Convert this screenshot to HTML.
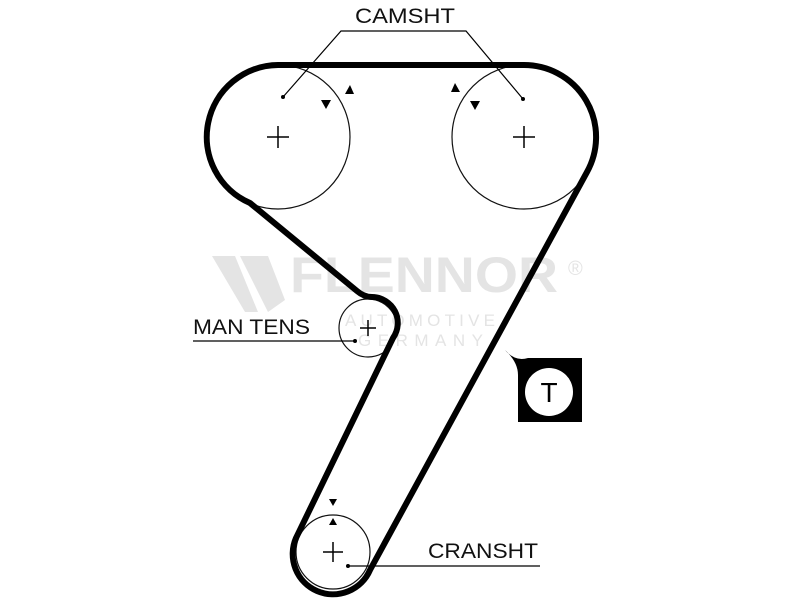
<!DOCTYPE html>
<html><head><style>body{margin:0;background:#fff}svg{display:block}</style></head><body>
<svg width="800" height="600" viewBox="0 0 800 600" xmlns="http://www.w3.org/2000/svg" font-family="Liberation Sans, sans-serif">
<rect width="800" height="600" fill="#fff"/>
<!-- watermark -->
<g fill="#e4e4e4">
<polygon points="212,256 235,256 258,312 245,312"/>
<polygon points="240,256 268,256 285,300 268,312"/>
<text x="290" y="292" font-size="50" font-weight="bold" textLength="268" lengthAdjust="spacingAndGlyphs">FLENNOR</text>
<text x="568" y="275" font-size="20">®</text>
<text x="345" y="326" font-size="17" textLength="150" lengthAdjust="spacing">AUTOMOTIVE</text>
<text x="358" y="346" font-size="17" textLength="125" lengthAdjust="spacing">GERMANY</text>
</g>
<!-- pulleys -->
<g fill="none" stroke="#111" stroke-width="1.2">
<circle cx="278" cy="137" r="72"/>
<circle cx="524" cy="137" r="72"/>
<circle cx="368" cy="328" r="29"/>
<circle cx="333" cy="552" r="37"/>
</g>
<!-- belt -->
<path d="M278 65 L524 65 A72 72 0 0 1 587 172 L370 570 A40 40 0 0 1 296 538 L393 338 A26 26 0 0 0 372 297 Q364 297 357 291 L250 203 A72 72 0 0 1 278 65 Z" fill="none" stroke="#000" stroke-width="6" stroke-linejoin="round"/>
<!-- centers -->
<g stroke="#000" stroke-width="1.5">
<path d="M267 137h22M278 126v22"/>
<path d="M513 137h22M524 126v22"/>
<path d="M360 328h16M368 320v16"/>
<path d="M323 552h20M333 542v20"/>
</g>
<!-- leaders -->
<g stroke="#000" stroke-width="1.2" fill="none">
<path d="M283 97 L341 31 L466 31 L523 99"/>
<path d="M193 341 L355 341"/>
<path d="M348 566 L540 566"/>
</g>
<g fill="#000">
<circle cx="283" cy="97" r="2"/><circle cx="523" cy="99" r="2"/>
<circle cx="355" cy="341" r="2"/><circle cx="348" cy="566" r="2"/>
<polygon points="321,100 331,100 326,109"/>
<polygon points="345,94 354,94 350,85"/>
<polygon points="451,92 460,92 455,83"/>
<polygon points="470,101 480,101 475,110"/>
<polygon points="329,499 337,499 333,506"/>
<polygon points="329,525 337,525 333,518"/>
</g>
<g font-size="21" fill="#111">
<text x="355" y="23" textLength="100" lengthAdjust="spacingAndGlyphs">CAMSHT</text>
<text x="193" y="334" textLength="117" lengthAdjust="spacingAndGlyphs">MAN TENS</text>
<text x="428" y="558" textLength="110" lengthAdjust="spacingAndGlyphs">CRANSHT</text>
</g>
<!-- T badge -->
<path d="M505 350 Q515 362 528 358 L582 358 L582 422 L518 422 L518 375 Q518 362 505 350 Z" fill="#000"/>
<circle cx="549" cy="392" r="24" fill="#fff"/>
<text x="549" y="402" font-size="28" text-anchor="middle" fill="#000">T</text>
</svg>
</body></html>
